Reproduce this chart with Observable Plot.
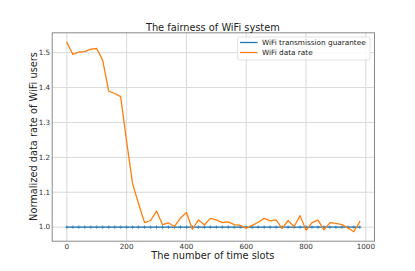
<!DOCTYPE html>
<html>
<head>
<meta charset="utf-8">
<script src="https://cdn.jsdelivr.net/npm/d3@7"></script>
<script src="https://cdn.jsdelivr.net/npm/@observablehq/plot@0.6"></script>
<style>
  html, body { margin: 0; padding: 0; background: #fff; }
  #chart svg { display: block; font-family: "DejaVu Sans", sans-serif; }
</style>
</head>
<body>
<div id="chart"></div>
<script>
const timeSlots = d3.range(0, 1000, 20);
const dataRate = [
  1.530, 1.495, 1.502, 1.503, 1.510, 1.512, 1.478, 1.390, 1.383, 1.374,
  1.245, 1.124, 1.067, 1.013, 1.019, 1.046, 1.007, 1.012, 1.002, 1.026,
  1.042, 0.994, 1.021, 1.006, 1.025, 1.021, 1.013, 1.015, 1.007, 1.005,
  0.997, 1.005, 1.014, 1.025, 1.018, 1.021, 0.996, 1.019, 1.001, 1.033,
  0.991, 1.013, 1.020, 0.992, 1.013, 1.011, 1.007, 0.998, 0.987, 1.016
];
const guarantee = timeSlots.map(() => 1.0);
const xTicks = [0, 200, 400, 600, 800, 1000];
const yTicks = [1.0, 1.1, 1.2, 1.3, 1.4, 1.5];
const seriesNames = ["WiFi transmission guarantee", "WiFi data rate"];
const seriesColors = ["#1f77b4", "#ff7f0e"];
const titleText = "The fairness of WiFi system";
const xLabel = "The number of time slots";
const yLabel = "Normalized data rate of WiFi users";

const guaranteeRows = timeSlots.map((t, i) => ({t, v: guarantee[i]}));
const rateRows = timeSlots.map((t, i) => ({t, v: dataRate[i]}));

const W = 415, H = 271;
const mL = 51.7, mR = 41, mT = 32.3, mB = 30.3;

const plot = Plot.plot({
  width: W,
  height: H,
  marginLeft: mL,
  marginRight: mR,
  marginTop: mT,
  marginBottom: mB,
  style: {fontFamily: "DejaVu Sans, sans-serif", fontSize: "7.2px", color: "#333", background: "#fff"},
  x: {domain: [-49, 1029], label: null},
  y: {domain: [0.9597, 1.557], label: null},
  marks: [
    Plot.gridX(xTicks, {stroke: "#d9d9d9", strokeOpacity: 1, strokeWidth: 1}),
    Plot.gridY(yTicks, {stroke: "#d9d9d9", strokeOpacity: 1, strokeWidth: 1}),
    Plot.line(guaranteeRows, {x: "t", y: "v", stroke: seriesColors[0], strokeWidth: 1.3}),
    Plot.dot(guaranteeRows, {x: "t", y: "v", symbol: "plus", r: 1.3, stroke: seriesColors[0], strokeWidth: 0.6}),
    Plot.line(rateRows, {x: "t", y: "v", stroke: seriesColors[1], strokeWidth: 1.3}),
    Plot.frame({stroke: "#8a8a8a", strokeWidth: 1}),
    Plot.axisX({ticks: xTicks, tickSize: 0, tickPadding: 2.6, fill: "#333", fontSize: 7.2, label: null, tickFormat: d3.format("d")}),
    Plot.axisY({ticks: yTicks, tickSize: 0, tickPadding: 2, fill: "#333", fontSize: 7.2, label: null, tickFormat: d3.format(".1f")})
  ]
});

const svg = d3.select(plot);
const cx = mL + (W - mL - mR) / 2;
const cy = mT + (H - mT - mB) / 2;

svg.append("text").attr("x", cx).attr("y", 30.5).attr("text-anchor", "middle")
  .attr("font-size", 9.8).attr("fill", "#222").text(titleText);
svg.append("text").attr("x", cx).attr("y", 258.6).attr("text-anchor", "middle")
  .attr("font-size", 9.8).attr("fill", "#222").text(xLabel);
svg.append("text").attr("transform", `translate(36.5,${cy}) rotate(-90)`).attr("text-anchor", "middle")
  .attr("font-size", 9.8).attr("fill", "#222").text(yLabel);

// legend
const lg = svg.append("g");
lg.append("rect").attr("x", 237.5).attr("y", 37).attr("width", 132.5).attr("height", 23)
  .attr("rx", 2).attr("fill", "#fff").attr("fill-opacity", 0.85).attr("stroke", "#dcdcdc").attr("stroke-width", 0.8);
seriesNames.forEach((name, i) => {
  const y = 42.5 + i * 10;
  lg.append("line").attr("x1", 240).attr("x2", 257.5).attr("y1", y).attr("y2", y)
    .attr("stroke", seriesColors[i]).attr("stroke-width", 1.3);
  lg.append("text").attr("x", 262).attr("y", y + 2.6).attr("text-anchor", "start")
    .attr("font-size", 7.3).attr("fill", "#222").text(name);
});

document.getElementById("chart").appendChild(plot);
</script>
</body>
</html>
